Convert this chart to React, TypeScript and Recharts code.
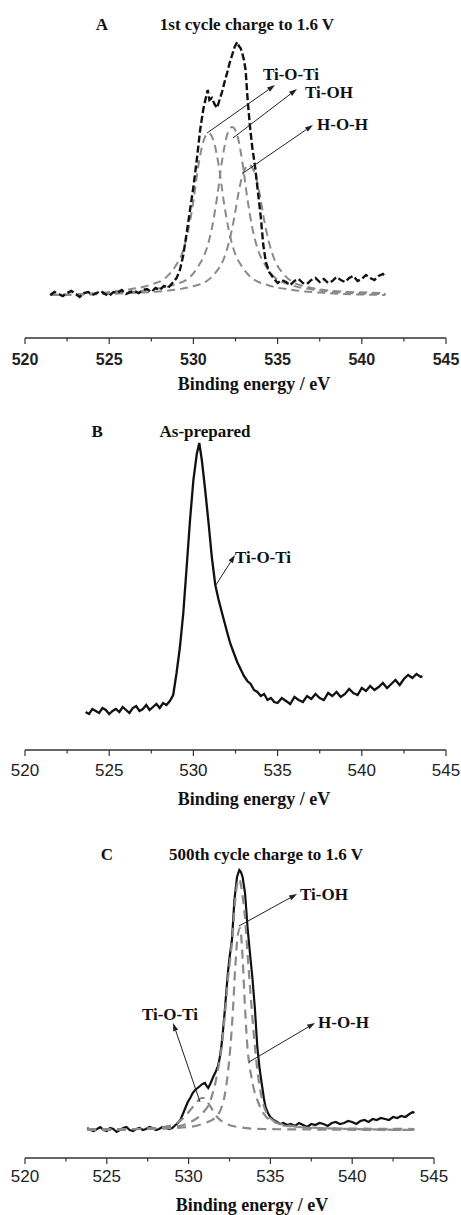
import { LineChart, Line, XAxis, YAxis, ReferenceLine, ReferenceDot, Label } from "recharts";

const SERIF = '"Liberation Serif", "Times New Roman", serif';
const SANS = '"Liberation Sans", Arial, sans-serif';

type Pt = [number, number];

const TICKS = [520, 522.5, 525, 527.5, 530, 532.5, 535, 537.5, 540, 542.5, 545];

// ---- A: 1st cycle charge to 1.6 V (binding energy eV, counts a.u.)
const aTotal: Pt[] = [
  [521.5, 43], [521.75, 46], [522.0, 44], [522.25, 42], [522.5, 45], [522.75, 47], [523.0, 44], [523.25, 41],
  [523.5, 45], [523.75, 46], [524.0, 43], [524.25, 45], [524.5, 47], [524.75, 44], [525.0, 42], [525.25, 46],
  [525.5, 45], [525.75, 48], [526.0, 44], [526.25, 46], [526.5, 47], [526.75, 45], [527.0, 48], [527.25, 49],
  [527.5, 46], [527.75, 50], [528.0, 48], [528.25, 52], [528.5, 50], [528.75, 55], [529.0, 60], [529.2, 68],
  [529.4, 83], [529.6, 105], [529.8, 128], [530.0, 151], [530.2, 178], [530.4, 208], [530.6, 230], [530.75, 241],
  [530.85, 248], [530.95, 238], [531.1, 240], [531.25, 234], [531.4, 230], [531.55, 238], [531.7, 246], [531.85, 256],
  [532.0, 265], [532.15, 275], [532.3, 283], [532.45, 291], [532.6, 296], [532.7, 292], [532.8, 290], [532.9, 285],
  [533.0, 278], [533.1, 268], [533.2, 243], [533.35, 213], [533.5, 190], [533.65, 173], [533.8, 151], [534.0, 121],
  [534.15, 93], [534.3, 76], [534.5, 66], [534.75, 60], [535.0, 55], [535.25, 58], [535.5, 56], [535.75, 53],
  [536.0, 57], [536.25, 59], [536.5, 55], [536.75, 54], [537.0, 58], [537.25, 60], [537.5, 56], [537.75, 59],
  [538.0, 55], [538.25, 57], [538.5, 61], [538.75, 58], [539.0, 56], [539.25, 60], [539.5, 62], [539.75, 57],
  [540.0, 59], [540.25, 63], [540.5, 60], [540.75, 58], [541.0, 62], [541.25, 64], [541.4, 61],
];
const aTiOTi: Pt[] = [
  [521.5, 43], [523.5, 44], [525.9, 48], [527.4, 53], [528.4, 61], [528.9, 71], [529.4, 88], [529.7, 108],
  [530.0, 137], [530.3, 173], [530.6, 197], [530.9, 205], [531.2, 197], [531.5, 173], [531.8, 137], [532.1, 108],
  [532.4, 88], [532.9, 71], [533.4, 61], [534.4, 53], [535.9, 48], [537.9, 45], [541.4, 43],
];
const aTiOH: Pt[] = [
  [521.5, 43], [525.3, 45], [527.3, 48], [528.8, 53], [529.8, 61], [530.3, 72], [530.8, 90], [531.1, 110],
  [531.4, 140], [531.7, 177], [532.0, 203], [532.3, 211], [532.6, 203], [532.9, 177], [533.2, 140], [533.5, 110],
  [533.8, 90], [534.3, 72], [534.8, 61], [535.8, 53], [537.3, 48], [539.3, 45], [541.4, 44],
];
const aHOH: Pt[] = [
  [521.5, 43], [526.3, 45], [528.3, 47], [529.8, 51], [530.8, 57], [531.3, 65], [531.8, 79], [532.1, 95],
  [532.4, 118], [532.7, 147], [533.0, 167], [533.3, 173], [533.6, 167], [533.9, 147], [534.2, 118], [534.5, 95],
  [534.8, 79], [535.3, 65], [535.8, 57], [536.8, 51], [538.3, 47], [541.4, 45],
];

// ---- B: as-prepared
const bTotal: Pt[] = [
  [523.6, 38], [523.8, 36], [524.0, 41], [524.2, 39], [524.4, 37], [524.6, 42], [524.8, 40], [525.0, 36],
  [525.2, 39], [525.4, 41], [525.6, 38], [525.8, 43], [526.0, 40], [526.2, 37], [526.4, 42], [526.6, 44],
  [526.8, 39], [527.0, 41], [527.2, 45], [527.4, 40], [527.6, 43], [527.8, 46], [528.0, 42], [528.2, 47],
  [528.4, 45], [528.6, 49], [528.8, 55], [529.0, 77], [529.2, 103], [529.4, 137], [529.6, 183], [529.8, 230],
  [530.0, 270], [530.2, 296], [530.35, 307], [530.5, 290], [530.7, 260], [530.9, 227], [531.1, 192], [531.3, 165],
  [531.5, 150], [531.7, 137], [532.0, 118], [532.2, 106], [532.4, 97], [532.6, 88], [532.8, 81], [533.0, 74],
  [533.2, 69], [533.4, 66], [533.6, 60], [533.8, 58], [534.0, 54], [534.2, 56], [534.4, 50], [534.6, 52],
  [534.8, 48], [535.0, 47], [535.25, 52], [535.5, 49], [535.75, 46], [536.0, 53], [536.25, 50], [536.5, 48],
  [536.75, 54], [537.0, 51], [537.25, 56], [537.5, 52], [537.75, 50], [538.0, 57], [538.25, 54], [538.5, 58],
  [538.75, 53], [539.0, 56], [539.25, 61], [539.5, 57], [539.75, 55], [540.0, 62], [540.25, 59], [540.5, 64],
  [540.75, 60], [541.0, 63], [541.25, 67], [541.5, 62], [541.75, 66], [542.0, 70], [542.25, 65], [542.5, 71],
  [542.75, 75], [543.0, 72], [543.25, 76], [543.5, 73], [543.6, 74],
];

// ---- C: 500th cycle charge to 1.6 V
const cTotal: Pt[] = [
  [523.8, 30], [524.0, 28], [524.2, 27], [524.4, 29], [524.6, 31], [524.8, 28], [525.0, 27], [525.2, 30],
  [525.4, 29], [525.6, 26], [525.8, 28], [526.0, 30], [526.2, 31], [526.4, 28], [526.6, 27], [526.8, 29],
  [527.0, 30], [527.2, 28], [527.4, 29], [527.6, 31], [527.8, 30], [528.0, 28], [528.2, 29], [528.4, 31],
  [528.6, 30], [528.8, 29], [529.0, 30], [529.2, 33], [529.35, 35], [529.5, 38], [529.65, 44], [529.8, 50],
  [529.95, 56], [530.1, 60], [530.25, 65], [530.4, 68], [530.55, 70], [530.7, 72], [530.85, 74], [531.0, 75],
  [531.1, 72], [531.2, 70], [531.35, 75], [531.5, 81], [531.65, 86], [531.8, 92], [531.9, 100], [532.0, 111],
  [532.1, 127], [532.2, 145], [532.3, 165], [532.4, 185], [532.5, 200], [532.65, 218], [532.8, 258], [532.96, 281],
  [533.1, 288], [533.2, 286], [533.3, 281], [533.45, 265], [533.6, 231], [533.75, 205], [533.9, 180], [534.05, 150],
  [534.2, 111], [534.35, 88], [534.5, 71], [534.6, 60], [534.7, 51], [534.85, 45], [535.0, 41], [535.2, 38],
  [535.4, 36], [535.6, 34], [535.8, 35], [536.0, 33], [536.25, 34], [536.5, 32], [536.75, 35], [537.0, 33],
  [537.25, 31], [537.5, 34], [537.75, 33], [538.0, 35], [538.25, 34], [538.5, 32], [538.75, 35], [539.0, 36],
  [539.25, 34], [539.5, 35], [539.75, 37], [540.0, 36], [540.25, 34], [540.5, 37], [540.75, 38], [541.0, 36],
  [541.25, 39], [541.5, 38], [541.75, 40], [542.0, 39], [542.25, 38], [542.5, 41], [542.75, 40], [543.0, 42],
  [543.25, 41], [543.5, 44], [543.7, 46], [543.8, 45],
];
const cTiOTi: Pt[] = [
  [523.8, 28], [527.0, 29], [528.5, 31], [529.3, 35], [529.8, 42], [530.2, 50], [530.5, 56], [530.8, 60],
  [531.0, 60], [531.2, 55], [531.5, 47], [531.8, 40], [532.2, 35], [533.0, 31], [534.5, 29], [543.8, 28],
];
const cTiOH: Pt[] = [
  [523.8, 28], [527.0, 29], [529.0, 31], [530.0, 35], [530.8, 44], [531.3, 56], [531.7, 80], [531.9, 98],
  [532.0, 108], [532.2, 140], [532.4, 178], [532.55, 200], [532.7, 225], [532.85, 258], [533.0, 276], [533.1, 279],
  [533.2, 273], [533.3, 262], [533.45, 240], [533.6, 205], [533.75, 172], [533.9, 140], [534.05, 112], [534.2, 88],
  [534.4, 66], [534.6, 52], [534.9, 42], [535.3, 36], [536.0, 32], [538.0, 30], [540.0, 29], [543.8, 28],
];
const cHOH: Pt[] = [
  [523.8, 29], [527.0, 29], [530.0, 31], [531.0, 35], [531.6, 40], [532.0, 50], [532.2, 62], [532.4, 85],
  [532.55, 110], [532.7, 145], [532.85, 190], [533.0, 222], [533.15, 230], [533.3, 200], [533.45, 150], [533.6, 110],
  [533.7, 95], [533.85, 80], [534.0, 68], [534.2, 58], [534.4, 50], [534.7, 42], [535.2, 36], [536.0, 33],
  [537.5, 30], [543.8, 29],
];

const toRows = (pts: Pt[]) => pts.map(([x, y]) => ({ x, y }));

function Arrow(p: any) {
  const { x1, y1, x2, y2 } = p;
  const a = Math.atan2(y2 - y1, x2 - x1);
  const bx = x2 - 8 * Math.cos(a);
  const by = y2 - 8 * Math.sin(a);
  const nx = -Math.sin(a) * 2.6;
  const ny = Math.cos(a) * 2.6;
  return (
    <g>
      <line x1={x1} y1={y1} x2={bx} y2={by} stroke="#222" strokeWidth={1} />
      <polygon points={`${x2},${y2} ${bx + nx},${by + ny} ${bx - nx},${by - ny}`} fill="#222" />
    </g>
  );
}

const makeTick = (bold: boolean, dy: number) => (p: any) => {
  const major = p.payload.value % 5 === 0;
  return (
    <g>
      <line x1={p.x} x2={p.x} y1={p.y} y2={p.y + (major ? 6 : 3.5)} stroke="#333" strokeWidth={1.2} />
      {major && (
        <text x={p.x} y={p.y + dy} textAnchor="middle" fontFamily={SANS} fontSize={bold ? 16 : 17}
          fontWeight={bold ? 700 : 400} fill="#222">
          {p.payload.value}
        </text>
      )}
    </g>
  );
};

const textShape = (txt: string, anchor: string, size: number) => (p: any) => (
  <text x={p.cx} y={p.cy} textAnchor={anchor} fontFamily={SERIF} fontWeight={700} fontSize={size} fill="#111">
    {txt}
  </text>
);

type Series = { pts: Pt[]; color: string; width: number; dash?: string; curve?: "linear" | "monotone" };
type Arr = { from: Pt; to: Pt };
type Txt = { at: Pt; text: string; anchor: string; size: number };

function Panel({ top, height, plotH, right, bold, tickDy, titleX, titleDy, series, arrows, texts }: {
  top: number; height: number; plotH: number; right: number; bold: boolean; tickDy: number;
  titleX: number; titleDy: number; series: Series[]; arrows: Arr[]; texts: Txt[];
}) {
  return (
    <div style={{ position: "absolute", left: 0, top, width: 461, height }}>
      <LineChart width={461} height={height} margin={{ top: 0, right, bottom: 0, left: 25 }}>
        <XAxis type="number" dataKey="x" domain={[520, 545]} ticks={TICKS} interval={0} allowDataOverflow
          height={height - plotH} tickSize={0} tickMargin={0} tickLine={false}
          axisLine={{ stroke: "#333", strokeWidth: 1.3 }} tick={makeTick(bold, tickDy)}>
          <Label content={(lp: any) => (
            <text x={titleX} y={lp.viewBox.y + titleDy} textAnchor="middle" fontFamily={SERIF}
              fontWeight={700} fontSize={18} fill="#111">
              Binding energy / eV
            </text>
          )} />
        </XAxis>
        <YAxis hide type="number" domain={[0, plotH]} allowDataOverflow />
        {series.map((s, i) => (
          <Line key={i} data={toRows(s.pts)} dataKey="y" type={s.curve ?? "linear"} stroke={s.color}
            strokeWidth={s.width} strokeDasharray={s.dash} dot={false} activeDot={false}
            isAnimationActive={false} />
        ))}
        {arrows.map((a, i) => (
          <ReferenceLine key={"a" + i} segment={[{ x: a.from[0], y: a.from[1] }, { x: a.to[0], y: a.to[1] }]}
            shape={Arrow} ifOverflow="visible" />
        ))}
        {texts.map((t, i) => (
          <ReferenceDot key={"t" + i} x={t.at[0]} y={t.at[1]} r={0} ifOverflow="visible"
            shape={textShape(t.text, t.anchor, t.size)} />
        ))}
      </LineChart>
    </div>
  );
}

const GRAY = "#8a8a8a";

export default function App() {
  return (
    <div style={{ position: "absolute", left: 0, top: 0, width: 461, height: 1215, background: "#fff" }}>
      <Panel top={0} height={400} plotH={338} right={15} bold tickDy={27} titleX={254} titleDy={52}
        series={[
          { pts: aTiOTi, color: GRAY, width: 2, dash: "8 5", curve: "monotone" },
          { pts: aTiOH, color: GRAY, width: 2, dash: "8 5", curve: "monotone" },
          { pts: aHOH, color: GRAY, width: 2, dash: "8 5", curve: "monotone" },
          { pts: aTotal, color: "#111", width: 2.4, dash: "7 3" },
        ]}
        arrows={[
          { from: [530.81, 205], to: [534.85, 253] },
          { from: [532.35, 200], to: [536.15, 249] },
          { from: [532.95, 165], to: [537.1, 213] },
        ]}
        texts={[
          { at: [524.57, 308], text: "A", anchor: "middle", size: 17 },
          { at: [533.18, 308], text: "1st cycle charge to 1.6 V", anchor: "middle", size: 17 },
          { at: [534.13, 258], text: "Ti-O-Ti", anchor: "start", size: 17 },
          { at: [536.63, 240], text: "Ti-OH", anchor: "start", size: 17 },
          { at: [537.34, 208], text: "H-O-H", anchor: "start", size: 17 },
        ]}
      />
      <Panel top={400} height={410} plotH={350} right={15} bold={false} tickDy={26} titleX={254} titleDy={55}
        series={[{ pts: bTotal, color: "#111", width: 2.3 }]}
        arrows={[{ from: [531.34, 165], to: [532.47, 195] }]}
        texts={[
          { at: [524.28, 313], text: "B", anchor: "middle", size: 17 },
          { at: [530.69, 313], text: "As-prepared", anchor: "middle", size: 17 },
          { at: [532.47, 187], text: "Ti-O-Ti", anchor: "start", size: 17 },
        ]}
      />
      <Panel top={810} height={405} plotH={348} right={27} bold={false} tickDy={24} titleX={252} titleDy={53}
        series={[
          { pts: cTotal, color: "#111", width: 2.2 },
          { pts: cTiOTi, color: GRAY, width: 2.2, dash: "9 6", curve: "monotone" },
          { pts: cTiOH, color: GRAY, width: 2.2, dash: "9 6", curve: "monotone" },
          { pts: cHOH, color: GRAY, width: 2.2, dash: "9 6", curve: "monotone" },
        ]}
        arrows={[
          { from: [533.08, 232], to: [536.63, 264] },
          { from: [533.69, 96], to: [537.73, 135] },
          { from: [530.7, 56], to: [529.05, 135] },
        ]}
        texts={[
          { at: [525.01, 298], text: "C", anchor: "middle", size: 17 },
          { at: [534.73, 298], text: "500th cycle charge to 1.6 V", anchor: "middle", size: 17 },
          { at: [536.81, 258], text: "Ti-OH", anchor: "start", size: 17 },
          { at: [537.91, 130], text: "H-O-H", anchor: "start", size: 17 },
          { at: [528.86, 138], text: "Ti-O-Ti", anchor: "middle", size: 17 },
        ]}
      />
    </div>
  );
}
